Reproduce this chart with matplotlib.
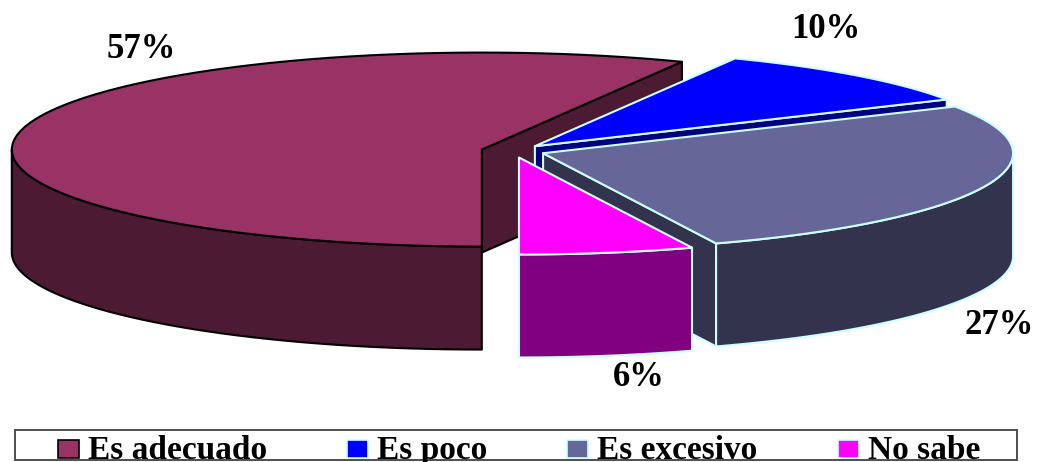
# -*- coding: utf-8 -*-
# plot.py

import numpy as np
import matplotlib
matplotlib.use('Agg')
import matplotlib.pyplot as plt
from matplotlib.patches import Polygon, Rectangle

plt.rcParams['font.family'] = ['Liberation Serif', 'DejaVu Serif']

# Chart data
names = ['Es adecuado', 'Es poco', 'Es excesivo', 'No sabe']
shares = [57, 10, 27, 6]
pct_labels = ['57%', '10%', '27%', '6%']

# Styles
top_colors = ['#993366', '#0000ff', '#666699', '#ff00ff']
side_colors = ['#4d1a33', '#000080', '#33334d', '#800080']
edge_colors = ['#000000', '#ccffff', '#ccffff', '#ccffff']

# Pie geometry, in pixels
cx, cy = 513, 151
rx, ry = 470, 97
depth = 103
explode = 0.068
start = 270

# Label and legend layout, in pixels
label_pos = [(141, 50), (826, 29), (999, 326), (639, 378)]
swatch_x = [58, 347, 567, 838]
text_x = [88, 377, 597, 868]

W, H = 1038, 462
fig = plt.figure(figsize=(W / 100, H / 100), dpi=100)
ax = fig.add_axes([0, 0, 1, 1])
ax.set_xlim(0, W)
ax.set_ylim(H, 0)
ax.axis('off')


def rim(x0, y0, a1, a2, n=80):
    t = np.radians(np.linspace(a1, a2, n))
    return np.column_stack([x0 + rx * np.cos(t), y0 - ry * np.sin(t)])


def add_poly(pts, face, edge, z):
    ax.add_patch(Polygon(pts, closed=True, facecolor=face, edgecolor=edge,
                         linewidth=1.5, joinstyle='round', zorder=z))


a = start
for i in range(len(shares)):
    sweep = shares[i] * 3.6
    a2 = a - sweep
    mid = np.radians((a + a2) / 2)
    x0 = cx + explode * rx * np.cos(mid)
    y0 = cy - explode * ry * np.sin(mid)
    z = i * 10
    # Cut face on the clockwise end of the slice
    end = rim(x0, y0, a2, a2, 1)[0]
    if i < 3:
        face_pts = [(x0, y0), tuple(end), (end[0], end[1] + depth), (x0, y0 + depth)]
        add_poly(face_pts, side_colors[i], edge_colors[i], z + 1)
    # Outer wall, only where the rim faces the viewer
    lo, hi = max(a2, -180), min(a, 0)
    if a > 180:
        lo, hi = 180, a
    if hi > lo:
        arc = rim(x0, y0, lo, hi)
        wall = np.vstack([arc, (arc + [0, depth])[::-1]])
        add_poly(wall, side_colors[i], edge_colors[i], z + 2)
    # Top of the slice
    top = np.vstack([[(x0, y0)], rim(x0, y0, a, a2)])
    add_poly(top, top_colors[i], edge_colors[i], z + 3)
    a = a2

for i in range(len(pct_labels)):
    ax.text(label_pos[i][0], label_pos[i][1], pct_labels[i], fontsize=25,
            fontweight='bold', ha='center', va='center', color='black', zorder=60)

# Legend box, the text runs into its lower edge
box = Rectangle((15, 430), 1002, 30, facecolor='white', edgecolor='#404040',
                linewidth=1.3, zorder=70)
ax.add_patch(box)
for i in range(len(names)):
    ax.add_patch(Rectangle((swatch_x[i], 440), 21, 18, facecolor=top_colors[i],
                           edgecolor=edge_colors[i], linewidth=1.2, zorder=71))
    t = ax.text(text_x[i], 459, names[i], fontsize=24, fontweight='bold',
                ha='left', va='baseline', color='black', zorder=71)
    t.set_clip_path(box)

fig.savefig('out.png', dpi=100)
